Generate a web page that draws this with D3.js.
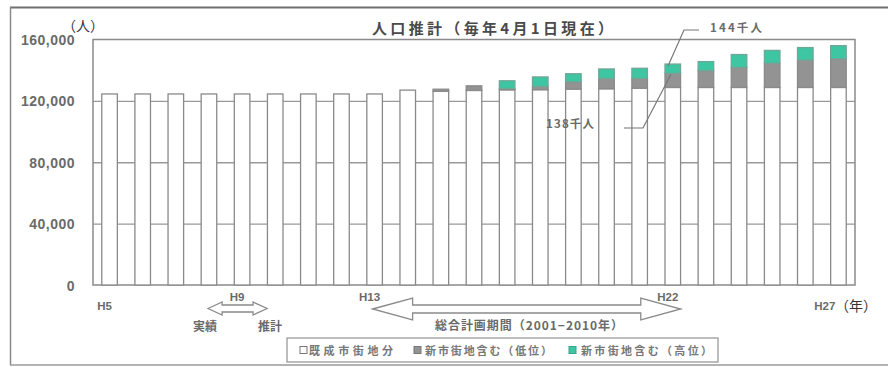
<!DOCTYPE html>
<html>
<head>
<meta charset="utf-8">
<script src="https://cdn.jsdelivr.net/npm/d3@7"></script>
<style>
  html, body { margin: 0; padding: 0; background: #fff; }
  svg { display: block; }
  .num { font-family: "Liberation Sans", Arial, sans-serif; font-weight: bold; }
  .jp { font-family: "Noto Sans CJK JP", sans-serif; }
</style>
</head>
<body>
<svg id="chart" width="888" height="367"></svg>
<script>
// Fiscal years (Heisei) shown on the axis
const years = ["H5","H6","H7","H8","H9","H10","H11","H12","H13","H14","H15","H16",
               "H17","H18","H19","H20","H21","H22","H23","H24","H25","H26","H27"];

// 既成市街地分 (existing urban area)
const existing = [124500,124500,124500,124500,124500,124500,124500,124500,124500,127000,
                  126200,126800,127200,127300,127700,127900,128300,128750,128750,128750,
                  128750,128750,128750];
// 新市街地含む（低位） increment over existing
const lowAdd = [0,0,0,0,0,0,0,0,0,0,
                1400,3000,800,2100,4800,6700,6300,9250,11000,13150,
                15850,17850,18750];
// 新市街地含む（高位） increment over low
const highAdd = [0,0,0,0,0,0,0,0,0,0,
                 0,0,5100,6200,5200,6200,6650,6000,5850,8300,
                 8300,8150,8500];

const yTicks = [0, 40000, 80000, 120000, 160000];
const shownYears = ["H5","H9","H13","H22","H27"];
const seriesNames = ["既成市街地分", "新市街地含む（低位）", "新市街地含む（高位）"];
const colors = ["#ffffff", "#939393", "#3ec5a2"];
const titleText = "人口推計（毎年4月1日現在）";
const noteHigh = "144千人";
const noteLow = "138千人";
const planText = "総合計画期間（2001−2010年）";

const svg = d3.select("#chart");
const plot = { left: 93, right: 855, top: 39.5, bottom: 285 };
const strokeGray = "#8a8a8a";
const textGray = "#6a6a6a";

// outer frame
svg.append("line").attr("x1", 10).attr("x2", 888).attr("y1", 7.5).attr("y2", 7.5)
  .attr("stroke", "#6f6f6f").attr("stroke-width", 2);
svg.append("line").attr("x1", 10.5).attr("x2", 10.5).attr("y1", 7).attr("y2", 365)
  .attr("stroke", "#8a8a8a").attr("stroke-width", 1.5);
svg.append("line").attr("x1", 10).attr("x2", 888).attr("y1", 365).attr("y2", 365)
  .attr("stroke", "#9a9a9a").attr("stroke-width", 1.5);

const x = d3.scaleBand().domain(years).range([plot.left, plot.right])
  .paddingInner(0.53).paddingOuter(0.265);
const y = d3.scaleLinear().domain([0, 160000]).range([plot.bottom, plot.top]);

// gridlines
const grid = svg.append("g").attr("transform", `translate(${plot.left},0)`)
  .call(d3.axisLeft(y).tickValues(yTicks.slice(1, 4)).tickSize(-(plot.right - plot.left)).tickFormat(""));
grid.select(".domain").remove();
grid.selectAll("line").attr("stroke", "#999").attr("stroke-width", 1.3);

// plot box
svg.append("rect").attr("x", plot.left).attr("y", plot.top)
  .attr("width", plot.right - plot.left).attr("height", plot.bottom - plot.top)
  .attr("fill", "none").attr("stroke", strokeGray).attr("stroke-width", 1.5);

// y tick labels
const yAxis = svg.append("g").attr("transform", `translate(75,0)`)
  .call(d3.axisLeft(y).tickValues(yTicks).tickSize(0).tickPadding(0).tickFormat(d3.format(",")));
yAxis.select(".domain").remove();
yAxis.selectAll("text").attr("class", "num").attr("font-size", 14)
  .attr("fill", textGray).attr("dy", "0.36em").attr("letter-spacing", 0.5);

// stacked bars
const rows = years.map((yr, i) => ({ year: yr, a: existing[i], b: lowAdd[i], c: highAdd[i] }));
const stack = d3.stack().keys(["a", "b", "c"])(rows);
const gBars = svg.append("g");
stack.forEach((layer, li) => {
  gBars.selectAll(null).data(layer.filter(d => d[1] > d[0])).enter().append("rect")
    .attr("x", d => x(d.data.year))
    .attr("width", x.bandwidth())
    .attr("y", d => y(d[1]))
    .attr("height", d => y(d[0]) - y(d[1]))
    .attr("fill", colors[li])
    .attr("stroke", li === 2 ? "#6fa898" : strokeGray)
    .attr("stroke-width", 1.3);
});

// title
svg.append("text").attr("class", "jp").attr("x", 372).attr("y", 34)
  .attr("font-size", 15).attr("font-weight", "bold").attr("fill", "#4a4a4a")
  .attr("textLength", 241).attr("lengthAdjust", "spacing").text(titleText);

// unit labels
svg.append("text").attr("class", "jp").attr("x", 62).attr("y", 31)
  .attr("font-size", 14).attr("fill", "#333").text("（人）");
svg.append("text").attr("class", "jp").attr("x", 835).attr("y", 311)
  .attr("font-size", 14).attr("fill", "#333").text("（年）");

// x labels
const lowRow = new Set(["H5", "H27"]);
const lastYear = shownYears[shownYears.length - 1];
svg.append("g").selectAll("text").data(shownYears).enter().append("text")
  .attr("class", "num")
  .attr("x", d => d === lastYear ? x(d) + x.bandwidth() / 2 - 3 : x(d) + x.bandwidth() / 2 - 5)
  .attr("y", d => lowRow.has(d) ? 310 : 301)
  .attr("text-anchor", d => d === lastYear ? "end" : "middle")
  .attr("font-size", 11.5).attr("fill", textGray)
  .text(d => d);

// annotation leaders for H22
const xH22 = x("H22");
const yHigh = y(existing[17] + lowAdd[17] + highAdd[17]);
const yLow = y(existing[17] + lowAdd[17]);
svg.append("path").attr("fill", "none").attr("stroke", "#777").attr("stroke-width", 1.2)
  .attr("d", `M${xH22 + 34},30 L${xH22 + 19},30 L${xH22 + 3},${yHigh + 2}`);
svg.append("text").attr("class", "jp").attr("x", 710).attr("y", 32)
  .attr("font-size", 11.5).attr("font-weight", "bold").attr("fill", textGray)
  .attr("textLength", 52).attr("lengthAdjust", "spacing").text(noteHigh);
svg.append("path").attr("fill", "none").attr("stroke", "#777").attr("stroke-width", 1.2)
  .attr("d", `M${xH22 - 41},128 L${xH22 - 22},128 L${xH22 + 6},${yLow + 1}`);
svg.append("text").attr("class", "jp").attr("x", 546).attr("y", 128)
  .attr("font-size", 11.5).attr("font-weight", "bold").attr("fill", textGray)
  .attr("textLength", 48).attr("lengthAdjust", "spacing").text(noteLow);

// hollow double arrows
function doubleArrow(x0, x1, cy, headLen, headHalf, shaftHalf) {
  return `M${x0},${cy} L${x0 + headLen},${cy - headHalf} L${x0 + headLen},${cy - shaftHalf}
          L${x1 - headLen},${cy - shaftHalf} L${x1 - headLen},${cy - headHalf} L${x1},${cy}
          L${x1 - headLen},${cy + headHalf} L${x1 - headLen},${cy + shaftHalf}
          L${x0 + headLen},${cy + shaftHalf} L${x0 + headLen},${cy + headHalf} Z`;
}
const cH9 = x("H9") + x.bandwidth() / 2;
svg.append("path").attr("d", doubleArrow(cH9 - 34, cH9 + 25, 308.5, 14, 6.5, 3.5))
  .attr("fill", "#fff").attr("stroke", "#8a8a8a").attr("stroke-width", 1.3);
const cH13 = x("H13") + x.bandwidth() / 2;
const cH22 = x("H22") + x.bandwidth() / 2;
svg.append("path").attr("d", doubleArrow(cH13 - 2, cH22 + 8, 309, 40, 11, 4))
  .attr("fill", "#fff").attr("stroke", "#8a8a8a").attr("stroke-width", 1.3);

svg.append("text").attr("class", "jp").attr("x", 205).attr("y", 331)
  .attr("text-anchor", "middle").attr("font-size", 12).attr("font-weight", "bold")
  .attr("fill", textGray).text("実績");
svg.append("text").attr("class", "jp").attr("x", 270).attr("y", 331)
  .attr("text-anchor", "middle").attr("font-size", 12).attr("font-weight", "bold")
  .attr("fill", textGray).text("推計");
svg.append("text").attr("class", "jp").attr("x", 435).attr("y", 329.5)
  .attr("font-size", 12).attr("font-weight", "bold").attr("fill", textGray)
  .attr("textLength", 188).attr("lengthAdjust", "spacing").text(planText);

// legend
svg.append("rect").attr("x", 287).attr("y", 338).attr("width", 431).attr("height", 24)
  .attr("fill", "#fff").attr("stroke", "#9a9a9a").attr("stroke-width", 1.3);
const legendItems = [
  { sx: 300, tx: 309, tw: 84 },
  { sx: 414, tx: 425, tw: 127 },
  { sx: 569, tx: 581, tw: 131 }
];
legendItems.forEach((it, i) => {
  svg.append("rect").attr("x", it.sx).attr("y", 346.5).attr("width", 7).attr("height", 7)
    .attr("fill", colors[i]).attr("stroke", i === 2 ? "#3aa58a" : "#777")
    .attr("stroke-width", 1);
  svg.append("text").attr("class", "jp").attr("x", it.tx).attr("y", 354.5)
    .attr("font-size", 11).attr("font-weight", "bold").attr("fill", "#777")
    .attr("textLength", it.tw).attr("lengthAdjust", "spacing").text(seriesNames[i]);
});
</script>
</body>
</html>
